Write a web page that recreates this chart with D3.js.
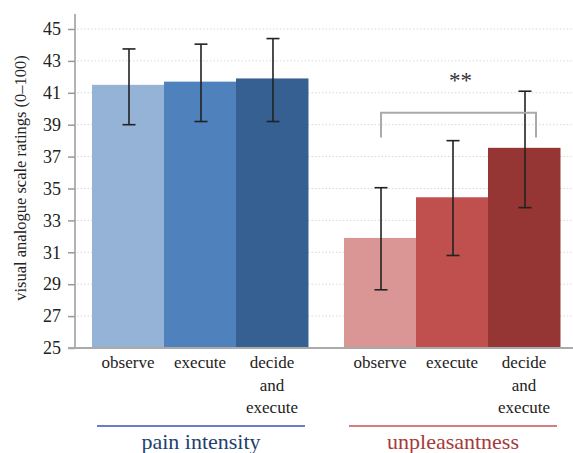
<!DOCTYPE html>
<html>
<head>
<meta charset="utf-8">
<script src="https://cdn.jsdelivr.net/npm/d3@7"></script>
<style>
	body { margin: 0; background: #fff; }
</style>
</head>
<body>
<div id="plot"></div>
<script>

// data
let groups = [ "pain intensity", "unpleasantness" ];
let conditions = [ "observe", "execute", "decide and execute" ];
let condition_lines = [ [ "observe" ], [ "execute" ], [ "decide", "and", "execute" ] ];
let pain_means = [ 41.5, 41.7, 41.9 ];
let pain_low = [ 39.0, 39.2, 39.2 ];
let pain_high = [ 43.75, 44.05, 44.4 ];
let unpl_means = [ 31.9, 34.45, 37.55 ];
let unpl_low = [ 28.65, 30.8, 33.8 ];
let unpl_high = [ 35.05, 38.0, 41.1 ];
let y_ticks = [ 25, 27, 29, 31, 33, 35, 37, 39, 41, 43, 45 ];

let pain_colors = [ "#95b3d7", "#4f81bd", "#366092" ];
let unpl_colors = [ "#da9694", "#c0504d", "#963634" ];
let group_colors = [ "#1f3f6e", "#a63a3a" ];
let group_line_colors = [ "#3a4fb5", "#c8505a" ];

const SERIF = "'Liberation Serif'";

///////////////////////////////////////////////////////////////////////

let width = 573, height = 453;

let svg = d3.select( "#plot" )
	.append( "svg" )
		.attr( "width", width )
		.attr( "height", height );

let y = d3.scaleLinear()
	.domain( [ 25, 45 ] )
	.range( [ 348, 29 ] );

let x_group = d3.scaleBand()
	.domain( groups )
	.range( [ 92, 560 ] )
	.paddingInner( 0.143 );

let x_cond = d3.scaleBand()
	.domain( conditions )
	.range( [ 0, x_group.bandwidth() ] );

let series = [
	{ group: groups[ 0 ], means: pain_means, low: pain_low, high: pain_high, colors: pain_colors },
	{ group: groups[ 1 ], means: unpl_means, low: unpl_low, high: unpl_high, colors: unpl_colors }
];

let rows = [];
series.forEach( s => {
	conditions.forEach( ( c, i ) => {
		rows.push( { group: s.group, cond: c, mean: s.means[ i ], low: s.low[ i ], high: s.high[ i ], color: s.colors[ i ] } );
	} );
} );

// gridlines
svg.append( "g" )
	.selectAll( "line" )
	.data( y_ticks.slice( 1 ) )
	.join( "line" )
		.attr( "x1", 77 )
		.attr( "x2", width )
		.attr( "y1", d => y( d ) )
		.attr( "y2", d => y( d ) )
		.attr( "stroke", "#d8d8d8" )
		.attr( "stroke-width", 1 )
		.attr( "stroke-dasharray", "1.5,2" );

// bars
svg.append( "g" )
	.selectAll( "rect" )
	.data( rows )
	.join( "rect" )
		.attr( "x", d => x_group( d.group ) + x_cond( d.cond ) )
		.attr( "width", x_cond.bandwidth() + 0.5 )
		.attr( "y", d => y( d.mean ) )
		.attr( "height", d => y( 25 ) - y( d.mean ) )
		.attr( "fill", d => d.color );

// y axis
let y_axis = svg.append( "g" )
	.attr( "transform", "translate(75,0)" )
	.call( d3.axisLeft( y ).tickValues( y_ticks ).tickSize( 7 ).tickPadding( 7 ) );
y_axis.select( ".domain" )
	.attr( "d", "M0," + 14 + "V" + y( 25 ) )
	.attr( "stroke", "#999" )
	.attr( "stroke-width", 1.5 );
y_axis.selectAll( ".tick line" )
	.attr( "stroke", "#999" )
	.attr( "stroke-width", 1.5 );
y_axis.selectAll( ".tick text" )
	.style( "font-family", SERIF )
	.style( "font-size", "18px" )
	.attr( "fill", "#222" );

// x axis line
svg.append( "line" )
	.attr( "x1", 68 )
	.attr( "x2", width )
	.attr( "y1", y( 25 ) )
	.attr( "y2", y( 25 ) )
	.attr( "stroke", "#aaa" )
	.attr( "stroke-width", 2 );

// error bars
let err = svg.append( "g" )
	.selectAll( "g" )
	.data( rows )
	.join( "g" )
		.attr( "transform", d => "translate(" + ( x_group( d.group ) + x_cond( d.cond ) + x_cond.bandwidth() / 2 + 1 ) + ",0)" );
err.append( "line" )
	.attr( "y1", d => y( d.low ) )
	.attr( "y2", d => y( d.high ) )
	.attr( "stroke", "#222" )
	.attr( "stroke-width", 1.6 );
err.append( "line" )
	.attr( "x1", -6.5 ).attr( "x2", 6.5 )
	.attr( "y1", d => y( d.high ) ).attr( "y2", d => y( d.high ) )
	.attr( "stroke", "#222" )
	.attr( "stroke-width", 1.6 );
err.append( "line" )
	.attr( "x1", -6.5 ).attr( "x2", 6.5 )
	.attr( "y1", d => y( d.low ) ).attr( "y2", d => y( d.low ) )
	.attr( "stroke", "#222" )
	.attr( "stroke-width", 1.6 );

// significance bracket between observe and decide (unpleasantness)
let bx1 = x_group( groups[ 1 ] ) + x_cond( conditions[ 0 ] ) + x_cond.bandwidth() / 2 + 1;
let bx2 = x_group( groups[ 1 ] ) + x_cond( conditions[ 2 ] ) + x_cond.bandwidth() / 2 + 12;
svg.append( "path" )
	.attr( "d", "M" + bx1 + "," + y( 38.2 ) + "V" + y( 39.75 ) + "H" + bx2 + "V" + y( 38.2 ) )
	.attr( "fill", "none" )
	.attr( "stroke", "#aaa" )
	.attr( "stroke-width", 2 );
svg.append( "text" )
	.attr( "x", ( bx1 + bx2 ) / 2 + 2 )
	.attr( "y", y( 41.3 ) )
	.attr( "text-anchor", "middle" )
	.style( "font-family", SERIF )
	.style( "font-size", "23px" )
	.attr( "fill", "#333" )
	.text( "**" );

// condition labels
let cond_labels = svg.append( "g" )
	.selectAll( "text" )
	.data( rows )
	.join( "text" )
		.attr( "text-anchor", "middle" )
		.attr( "transform", d => "translate(" + ( x_group( d.group ) + x_cond( d.cond ) + x_cond.bandwidth() / 2 ) + ",368)" )
		.style( "font-family", SERIF )
		.style( "font-size", "17px" )
		.attr( "fill", "#222" );
cond_labels.selectAll( "tspan" )
	.data( d => condition_lines[ conditions.indexOf( d.cond ) ] )
	.join( "tspan" )
		.attr( "x", 0 )
		.attr( "y", ( d, i ) => i * 22.5 )
		.text( d => d );

// group underlines and names
groups.forEach( ( g, i ) => {
	let gx = x_group( g );
	svg.append( "line" )
		.attr( "x1", gx + 5 )
		.attr( "x2", gx + x_group.bandwidth() - 3 )
		.attr( "y1", 426 ).attr( "y2", 426 )
		.attr( "stroke", group_line_colors[ i ] )
		.attr( "stroke-width", 1.5 );
	svg.append( "text" )
		.attr( "x", gx + x_group.bandwidth() / 2 + 1 )
		.attr( "y", 449 )
		.attr( "text-anchor", "middle" )
		.style( "font-family", SERIF )
		.style( "font-size", "22px" )
		.attr( "fill", group_colors[ i ] )
		.text( g );
} );

// y axis title
svg.append( "text" )
	.attr( "transform", "translate(26,178) rotate(-90)" )
	.attr( "text-anchor", "middle" )
	.style( "font-family", SERIF )
	.style( "font-size", "16.5px" )
	.attr( "fill", "#222" )
	.text( "visual analogue scale ratings (0\u2013100)" );

</script>
</body>
</html>
